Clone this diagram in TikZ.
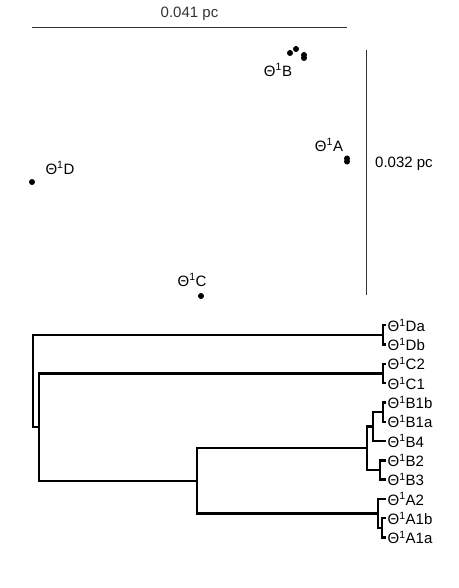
\documentclass[tikz,border=0pt]{standalone}
\usepackage{fontspec}
\setmainfont{Liberation Sans}
\usetikzlibrary{positioning}

\newcommand{\thone}[1]{Θ\textsuperscript{1}#1}

\begin{document}
\begin{tikzpicture}[x=1pt, y=-1pt, font=\fontsize{15}{17}\selectfont,
    dot/.style={circle, fill=black, inner sep=0pt, minimum size=6pt},
    leaf/.style={anchor=west, inner sep=1.5pt},
    branch/.style={line width=2.4pt},
    scalebar/.style={line width=1pt, black!80}]
  \useasboundingbox (0,0) rectangle (458,588);

  % Scale bars
  \coordinate (hl) at (32,28);
  \coordinate (hr) at (347,28);
  \draw[scalebar] (hl) -- node[above=7pt, inner sep=0pt] (hlab) {0.041 pc} (hr);
  \coordinate (vt) at (366,50);
  \coordinate (vb) at (366,295);
  \draw[scalebar] (vt) -- (vb);
  \node[anchor=west, inner sep=0pt] (vlab) at (375,164) {0.032 pc};

  % Ordination points
  \node[dot] (b1) at (290,53) {};
  \node[dot] (b2) at (296,49) {};
  \node[dot] (b3) at (304,55) {};
  \node[dot] (b4) at (304,58) {};
  \node[dot] (a1) at (347,158.5) {};
  \node[dot] (a2) at (347,161.5) {};
  \node[dot] (d1) at (32,182) {};
  \node[dot] (c1) at (201,296) {};
  \node (labB) at (278,70)  {\thone{B}};
  \node (labA) at (329,145) {\thone{A}};
  \node (labD) at (60,168)  {\thone{D}};
  \node (labC) at (192,280) {\thone{C}};

  % Leaves
  \node[leaf] (Da)  at (386,325.2) {\thone{Da}};
  \node[leaf] (Db)  at (386,344.5) {\thone{Db}};
  \node[leaf] (C2)  at (386,363.8) {\thone{C2}};
  \node[leaf] (C1)  at (386,383.1) {\thone{C1}};
  \node[leaf] (B1b) at (386,402.4) {\thone{B1b}};
  \node[leaf] (B1a) at (386,421.7) {\thone{B1a}};
  \node[leaf] (B4)  at (386,441.0) {\thone{B4}};
  \node[leaf] (B2)  at (386,460.3) {\thone{B2}};
  \node[leaf] (B3)  at (386,479.6) {\thone{B3}};
  \node[leaf] (A2)  at (386,498.9) {\thone{A2}};
  \node[leaf] (A1b) at (386,518.2) {\thone{A1b}};
  \node[leaf] (A1a) at (386,537.5) {\thone{A1a}};

  % Internal nodes
  \coordinate (nD)   at (383,334.85);
  \coordinate (nC)   at (383,373.45);
  \coordinate (nB1)  at (383,412.05);
  \coordinate (nB14) at (373,426.5);
  \coordinate (nB23) at (380,469.95);
  \coordinate (nB)   at (367,448.2);
  \coordinate (nA1)  at (382,527.85);
  \coordinate (nA)   at (378,513.4);
  \coordinate (nBA)  at (197,480.8);
  \coordinate (n2)   at (39,427.1);
  \coordinate (nR)   at (33,381);

  \draw[branch] (Da.west) -| (nD) |- (Db.west);
  \draw[branch] (C2.west) -| (nC) |- (C1.west);
  \draw[branch] (B1b.west) -| (nB1) |- (B1a.west);
  \draw[branch] (nB1) -| (nB14) |- (B4.west);
  \draw[branch] (B2.west) -| (nB23) |- (B3.west);
  \draw[branch] (nB14) -| (nB) |- (nB23);
  \draw[branch] (A1b.west) -| (nA1) |- (A1a.west);
  \draw[branch] (A2.west) -| (nA) |- (nA1);
  \draw[branch] (nB) -| (nBA) |- (nA);
  \draw[branch] (nC) -| (n2) |- (nBA);
  \draw[branch] (nD) -| (nR) |- (n2);
\end{tikzpicture}
\end{document}
